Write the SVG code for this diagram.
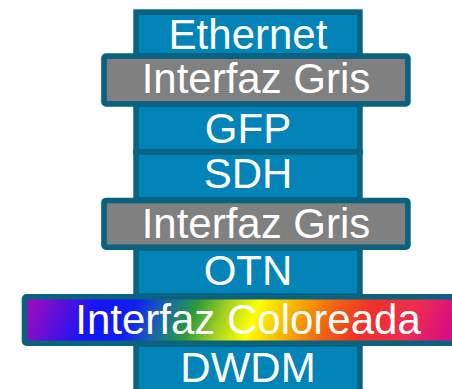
<svg xmlns="http://www.w3.org/2000/svg" width="452" height="389" viewBox="0 0 452 389">
  <style>
    .layer { fill: #0284b9; stroke: #09627f; stroke-width: 5.6; }
    .grey { fill: #808080; stroke: #09627f; stroke-width: 5.6; }
    .colour { fill: url(#spectrum); stroke: #09627f; stroke-width: 5.6; }
    .label { font-family: "Liberation Sans", Arial, sans-serif; font-size: 42px; fill: #ffffff; text-anchor: middle; }
  </style>
  <defs>
    <!-- slanted rainbow across the coloured interface band -->
    <linearGradient id="spectrum" gradientUnits="userSpaceOnUse" x1="24" y1="320" x2="474" y2="320" gradientTransform="matrix(1 0 -0.405 1 129.6 0)">
      <stop offset="0" stop-color="#9a0cc0"/>
      <stop offset="0.15" stop-color="#1414f8"/>
      <stop offset="0.235" stop-color="#1020f0"/>
      <stop offset="0.30" stop-color="#1a64b0"/>
      <stop offset="0.37" stop-color="#2a9a3a"/>
      <stop offset="0.436" stop-color="#a0d020"/>
      <stop offset="0.507" stop-color="#ffff00"/>
      <stop offset="0.60" stop-color="#f8a800"/>
      <stop offset="0.68" stop-color="#f06010"/>
      <stop offset="0.76" stop-color="#f03028"/>
      <stop offset="0.86" stop-color="#ee2d50"/>
      <stop offset="0.95" stop-color="#d81080"/>
      <stop offset="1" stop-color="#c81090"/>
    </linearGradient>
  </defs>

  <!-- protocol stack layers -->
  <g id="ethernet">
    <rect class="layer" x="136.1" y="12.1" width="223.8" height="44"/>
    <text class="label" x="248" y="48.5">Ethernet</text>
  </g>
  <g id="gfp">
    <rect class="layer" x="136.1" y="104" width="223.8" height="48"/>
    <text class="label" x="248" y="143.3">GFP</text>
  </g>
  <g id="sdh">
    <rect class="layer" x="136.1" y="152" width="223.8" height="48"/>
    <text class="label" x="248" y="188.3">SDH</text>
  </g>
  <g id="otn">
    <rect class="layer" x="136.1" y="248" width="223.8" height="48"/>
    <text class="label" x="248" y="285">OTN</text>
  </g>
  <g id="dwdm">
    <rect class="layer" x="136.1" y="344" width="223.8" height="50"/>
    <text class="label" x="248" y="381.7">DWDM</text>
  </g>

  <!-- interfaces between layers -->
  <g id="interfaz-gris-1">
    <rect class="grey" x="104" y="56.1" width="303.9" height="47.8" rx="2"/>
    <text class="label" x="256" y="93.3">Interfaz Gris</text>
  </g>
  <g id="interfaz-gris-2">
    <rect class="grey" x="104" y="200.5" width="303.9" height="46.7" rx="2"/>
    <text class="label" x="256" y="238.3">Interfaz Gris</text>
  </g>
  <g id="interfaz-coloreada">
    <rect class="colour" x="24.5" y="296.8" width="447" height="46.4" rx="2"/>
    <text class="label" x="248" y="334">Interfaz Coloreada</text>
  </g>
</svg>
